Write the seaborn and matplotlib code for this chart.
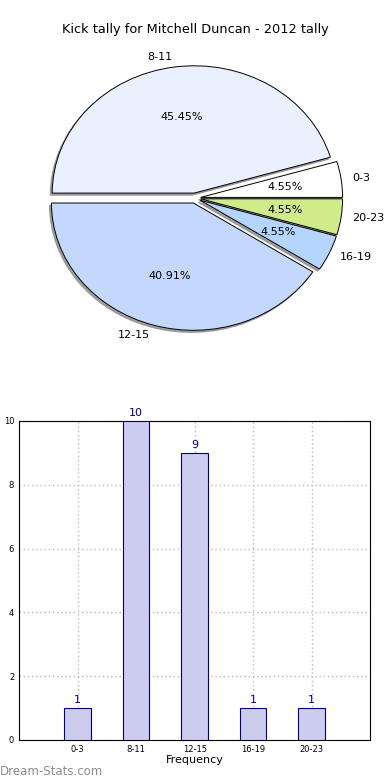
import matplotlib
matplotlib.use('Agg')
import matplotlib.pyplot as plt
import seaborn as sns
import pandas as pd

# data
categories = ["0-3", "8-11", "12-15", "16-19", "20-23"]
counts = [1, 10, 9, 1, 1]
pie_colors = ["#ffffff", "#e9f0fe", "#c4d8fe", "#b3d5fe", "#d0ec8a"]
title = "Kick tally for Mitchell Duncan - 2012 tally"

sns.set_style("white")
plt.rcParams['font.family'] = ['DejaVu Sans']
plt.rcParams['text.color'] = 'black'
plt.rcParams['axes.labelcolor'] = 'black'
plt.rcParams['xtick.color'] = 'black'
plt.rcParams['ytick.color'] = 'black'

fig = plt.figure(figsize=(3.9, 7.8), dpi=100)

# ── pie ──────────────────────────────────────────────────────────────
ax1 = fig.add_axes([0.045, 0.542, 0.910, 0.408])
wedges, texts, autotexts = ax1.pie(
    counts,
    labels=categories,
    colors=pie_colors,
    explode=[0.04] * len(counts),
    autopct="%.2f%%",
    shadow={"ox": -0.01, "oy": -0.012, "color": "#888888", "alpha": 0.8},
    startangle=0,
    labeldistance=1.08,
    wedgeprops={"edgecolor": "black", "linewidth": 0.7},
    textprops={"fontsize": 8, "color": "black"},
)
ax1.set_aspect("auto")
ax1.set_xlim(-1.25, 1.25)
ax1.set_ylim(-1.25, 1.25)
fig.text(0.5, 0.962, title, ha="center", va="center", fontsize=9.3)

# ── bar chart ────────────────────────────────────────────────────────
df = pd.DataFrame({"range": categories, "count": counts})
ax2 = fig.add_axes([0.049, 0.0513, 0.9, 0.409])
sns.barplot(data=df, x="range", y="count", color="#ccccee", saturation=1,
            edgecolor="#000080", linewidth=0.8, width=0.45, ax=ax2, zorder=3)
ax2.set_xlim(-1, 5)
ax2.set_ylim(0, 10)
ax2.set_yticks(range(0, 11, 2))
ax2.grid(True, linestyle=(0, (1, 2)), color="#bbbbbb", linewidth=1.0, zorder=0)
ax2.set_axisbelow(True)
for i, v in enumerate(counts):
    ax2.text(i, v + 0.1, str(v), ha="center", va="bottom", color="#000080", fontsize=8)
ax2.tick_params(axis="both", labelsize=6, length=3, direction="in")
ax2.set_xlabel("Frequency", fontsize=8, labelpad=1)
ax2.set_ylabel("Kick Tally", fontsize=7.5, labelpad=6)
for s in ax2.spines.values():
    s.set_color("black")
    s.set_linewidth(0.8)

fig.text(0.0, 0.003, "Dream-Stats.com", color="#8c8c8c", fontsize=8.5,
         ha="left", va="bottom")

fig.savefig("out.png", dpi=100)
